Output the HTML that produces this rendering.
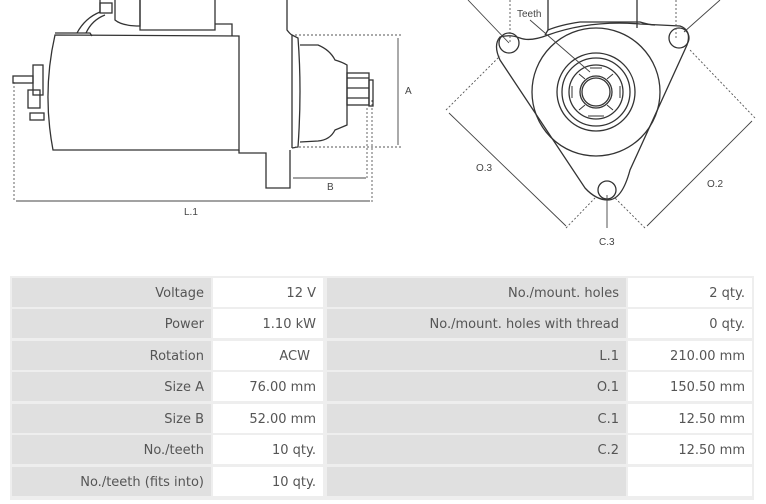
<!DOCTYPE html>
<html><head><meta charset="utf-8"><style>
body{margin:0;width:766px;height:504px;background:#fff;position:relative;overflow:hidden;font-family:"DejaVu Sans","Liberation Sans",sans-serif;}
.c{position:absolute;height:29px;line-height:32px;font-size:13px;color:#555;text-align:right;box-sizing:border-box;padding-right:7px;}
.g{background:#e0e0e0;}
.w{background:#fff;}
</style></head><body>
<svg width="766" height="260" style="position:absolute;left:0;top:0" fill="none" stroke="#333" stroke-width="1.3">
<path d="M55 35 Q42 92 53 150 L239 150 L239 36 L55 35Z"/>
<path d="M55 33 L90 33 L92 36"/>
<path d="M77 33 Q85 18 100 12 L100 0"/>
<path d="M86 33 Q92 20 105 15"/>
<rect x="100" y="3" width="12" height="10"/>
<path d="M115 0 L115 20 Q122 26 140 26 L140 0"/>
<path d="M140 0 L140 30 L215 30 L215 0"/>
<path d="M215 24 L232 24 L232 36"/>
<path d="M239 150 L239 153 L266 153 L266 188 L290 188 L290 150"/>
<path d="M287 0 L287 30 Q290 34 292 35 L292 148"/>
<path d="M292 35 L298 38 Q302 90 298 147 L292 148"/>
<path d="M300 45 L318 45 Q330 50 335 60 Q342 62 347 65 L347 125 Q340 128 335 130 Q330 140 318 141 L300 142"/>
<rect x="347" y="73" width="22" height="32"/>
<rect x="369" y="80" width="4" height="26"/>
<path d="M347 78 L369 78 M347 88 L369 88 M347 98 L369 98"/>
<rect x="13" y="76" width="20" height="7"/>
<rect x="33" y="65" width="10" height="30"/>
<rect x="28" y="90" width="12" height="18"/>
<rect x="30" y="113" width="14" height="7"/>
<g stroke="#555" stroke-width="0.9" stroke-dasharray="2,2">
<path d="M295 35 L402 35 M295 147 L402 147 M14 82 L14 202 M372 100 L372 202 M367 108 L367 180"/>
</g>
<g stroke="#444" stroke-width="0.9">
<path d="M398 38 L398 145 M293 178 L366 178 M16 201 L370 201"/>
</g>
<path d="M548 30 L548 0 M637 28 L637 0 M548 30 Q560 25 580 22 L640 22 Q650 25 655 25"/>
<path d="M548 30 L545 35"/>
<path d="M500 37 Q510 34 520 38 Q530 42 548 35 Q590 20 640 24 L680 26 Q692 30 687 45 L630 170 Q622 200 608 200 Q596 200 585 188 L500 60 Q493 45 500 37Z"/>
<circle cx="509" cy="43" r="10"/>
<circle cx="679" cy="38" r="10"/>
<circle cx="607" cy="190" r="9"/>
<circle cx="596" cy="92" r="64"/>
<circle cx="596" cy="92" r="39"/>
<circle cx="596" cy="92" r="34"/>
<circle cx="596" cy="92" r="27"/>
<circle cx="596" cy="92" r="16"/>
<circle cx="596" cy="92" r="14"/>
<g stroke-width="1">
<path d="M590 68 L602 68 M588 116 L604 116 M572 86 L572 98 M620 86 L620 98 M579 74 L585 79 M613 74 L607 79 M579 110 L585 105 M613 110 L607 105"/>
</g>
<g stroke="#444" stroke-width="0.9">
<path d="M468 0 L509 43 M720 0 L684 32 M530 20 L590 72 M607 228 L607 195"/>
<path d="M449 113 L566 226 M752 121 L647 226"/>
</g>
<g stroke="#555" stroke-width="0.9" stroke-dasharray="2,2">
<path d="M446 110 L500 56 M566 228 L595 198 M755 118 L690 50 M645 228 L615 198 M510 0 L510 42 M676 0 L676 38"/>
</g>
<g fill="#444" stroke="none" font-family="Liberation Sans,sans-serif" font-size="10">
<text x="405" y="94">A</text>
<text x="327" y="190">B</text>
<text x="184" y="215">L.1</text>
<text x="517" y="17">Teeth</text>
<text x="476" y="171">O.3</text>
<text x="707" y="187">O.2</text>
<text x="599" y="245">C.3</text>
</g>
</svg>
<div style="position:absolute;left:10px;top:276px;width:744px;height:224px;background:#eee;"></div>
<div class="c g" style="left:12px;top:278px;width:199px">Voltage</div>
<div class="c w" style="left:213px;top:278px;width:110px">12 V</div>
<div class="c g" style="left:327px;top:278px;width:299px">No./mount. holes</div>
<div class="c w" style="left:628px;top:278px;width:124px">2 qty.</div>
<div class="c g" style="left:12px;top:309px;width:199px">Power</div>
<div class="c w" style="left:213px;top:309px;width:110px">1.10 kW</div>
<div class="c g" style="left:327px;top:309px;width:299px">No./mount. holes with thread</div>
<div class="c w" style="left:628px;top:309px;width:124px">0 qty.</div>
<div class="c g" style="left:12px;top:341px;width:199px">Rotation</div>
<div class="c w" style="left:213px;top:341px;width:110px;padding-right:13px">ACW</div>
<div class="c g" style="left:327px;top:341px;width:299px">L.1</div>
<div class="c w" style="left:628px;top:341px;width:124px">210.00 mm</div>
<div class="c g" style="left:12px;top:372px;width:199px">Size A</div>
<div class="c w" style="left:213px;top:372px;width:110px">76.00 mm</div>
<div class="c g" style="left:327px;top:372px;width:299px">O.1</div>
<div class="c w" style="left:628px;top:372px;width:124px">150.50 mm</div>
<div class="c g" style="left:12px;top:404px;width:199px">Size B</div>
<div class="c w" style="left:213px;top:404px;width:110px">52.00 mm</div>
<div class="c g" style="left:327px;top:404px;width:299px">C.1</div>
<div class="c w" style="left:628px;top:404px;width:124px">12.50 mm</div>
<div class="c g" style="left:12px;top:435px;width:199px">No./teeth</div>
<div class="c w" style="left:213px;top:435px;width:110px">10 qty.</div>
<div class="c g" style="left:327px;top:435px;width:299px">C.2</div>
<div class="c w" style="left:628px;top:435px;width:124px">12.50 mm</div>
<div class="c g" style="left:12px;top:467px;width:199px">No./teeth (fits into)</div>
<div class="c w" style="left:213px;top:467px;width:110px">10 qty.</div>
<div class="c g" style="left:327px;top:467px;width:299px"></div>
<div class="c w" style="left:628px;top:467px;width:124px"></div>
</body></html>
